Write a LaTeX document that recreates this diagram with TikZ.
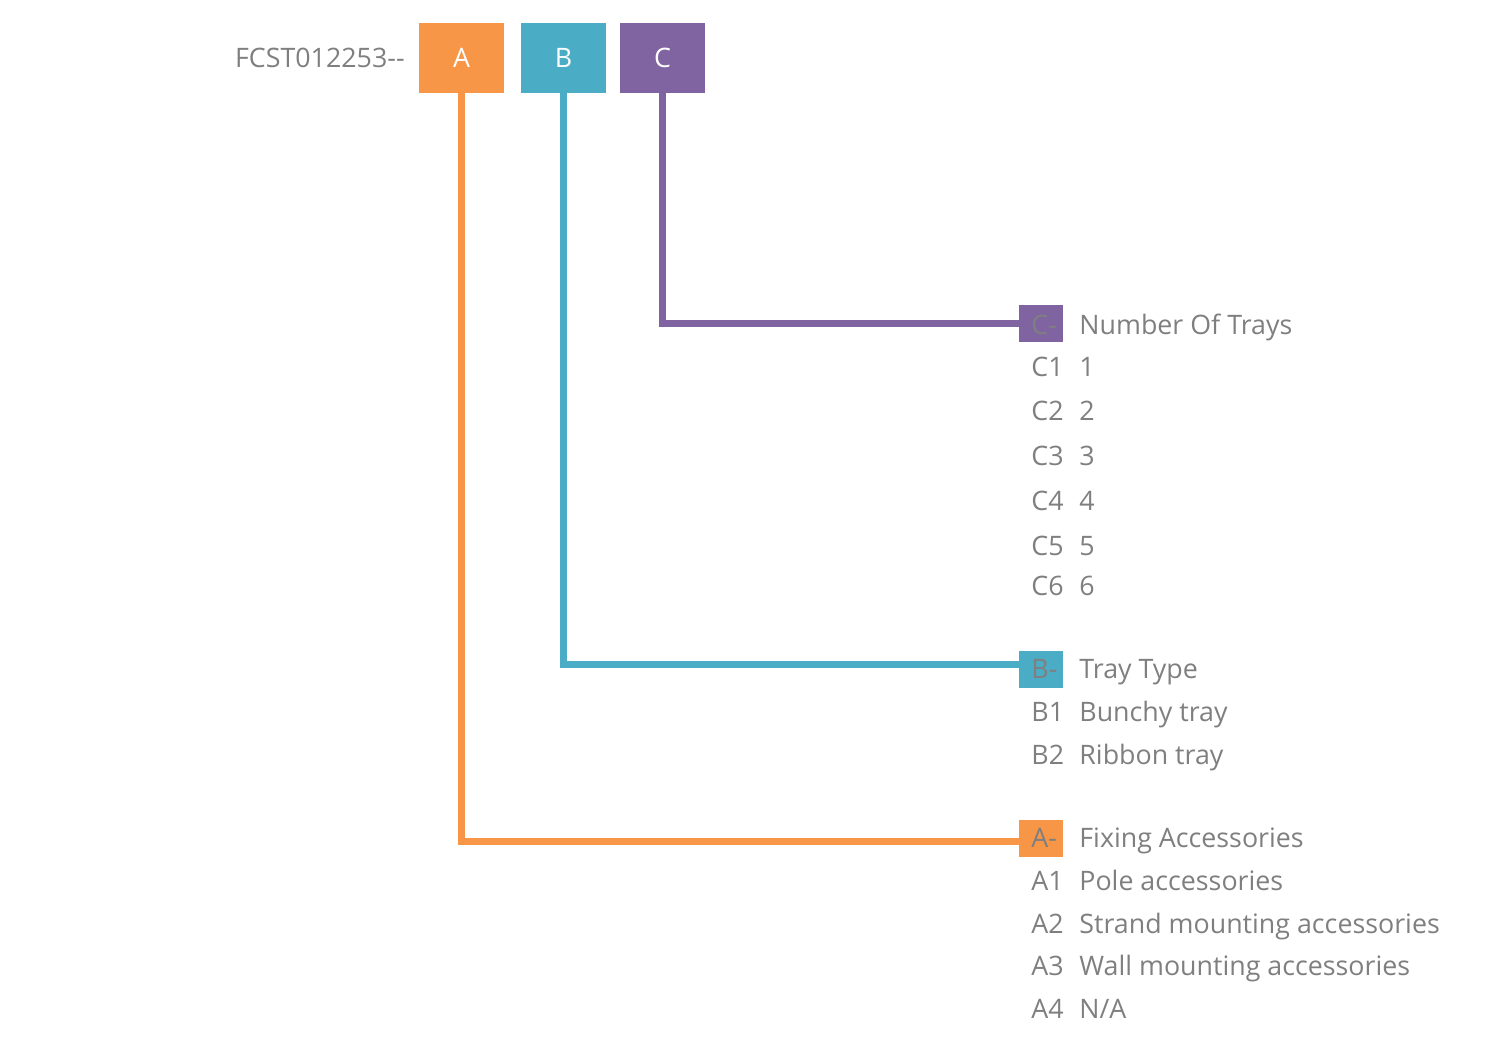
\documentclass[tikz,border=0pt]{standalone}
\usepackage{fontspec}
\setmainfont{Open Sans}
\usetikzlibrary{positioning}
\definecolor{accorange}{HTML}{F79646}
\definecolor{accblue}{HTML}{4BACC6}
\definecolor{accpurple}{HTML}{8064A2}
\definecolor{txtgray}{HTML}{7F7F7F}

\begin{document}
\begin{tikzpicture}[
        x=0.5pt, y=-0.5pt,
        every node/.style={font=\fontsize{13.4}{16}\selectfont},
        codebox/.style={rectangle, minimum width=42.5pt, minimum height=35pt, inner sep=0pt, text=white},
        keybox/.style={rectangle, minimum width=22pt, minimum height=18.5pt, inner sep=0pt},
        txt/.style={anchor=base west, inner sep=0pt, text=txtgray},
        link/.style={line width=3.5pt}
    ]
        \useasboundingbox (0,0) rectangle (1492,1044);

        % Code
        \node[txt, anchor=base east] (code) at (405,67) {FCST012253{-}{-}};
        \node[codebox, fill=accorange] (A) at (461.5,58) {A};
        \node[codebox, fill=accblue] (B) at (563.5,58) {B};
        \node[codebox, fill=accpurple] (C) at (662.5,58) {C};

        % Keys
        \node[keybox, fill=accpurple] (Ckey) at (1041,323.5) {};
        \node[keybox, fill=accblue] (Bkey) at (1041,669) {};
        \node[keybox, fill=accorange] (Akey) at (1041,838.5) {};

        % Links
        \draw[link, accorange] (A.south) |- ([yshift=-1.25pt]Akey.west);
        \draw[link, accblue] (B.south) |- ([yshift=2.5pt]Bkey.west);
        \draw[link, accpurple] (C.south) |- (Ckey.west);

        % Number of trays
        \node[txt] (Chead) at (1031,334) {C-};
        \node[txt] (Ctitle) at (1079,334) {Number Of Trays};
        \foreach \n/\y in {1/376, 2/420, 3/465, 4/510, 5/555, 6/595}
            \node[txt] (C\n) at (1031,\y) {C\n};
        \foreach \n/\y in {1/376, 2/420, 3/465, 4/510, 5/555, 6/595}
            \node[txt] (C\n val) at (1079,\y) {\n};

        % Tray type
        \node[txt] (Bhead) at (1031,678) {B-};
        \node[txt] (Btitle) at (1079,678) {Tray Type};
        \node[txt] (B1) at (1031,721) {B1};
        \node[txt] (B1val) at (1079,721) {Bunchy tray};
        \node[txt] (B2) at (1031,764) {B2};
        \node[txt] (B2val) at (1079,764) {Ribbon tray};

        % Fixing accessories
        \node[txt] (Ahead) at (1031,847) {A-};
        \node[txt] (Atitle) at (1079,847) {Fixing Accessories};
        \node[txt] (A1) at (1031,890) {A1};
        \node[txt] (A1val) at (1079,890) {Pole accessories};
        \node[txt] (A2) at (1031,933) {A2};
        \node[txt] (A2val) at (1079,933) {Strand mounting accessories};
        \node[txt] (A3) at (1031,975) {A3};
        \node[txt] (A3val) at (1079,975) {Wall mounting accessories};
        \node[txt] (A4) at (1031,1018) {A4};
        \node[txt] (A4val) at (1079,1018) {N/A};
    \end{tikzpicture}
\end{document}
